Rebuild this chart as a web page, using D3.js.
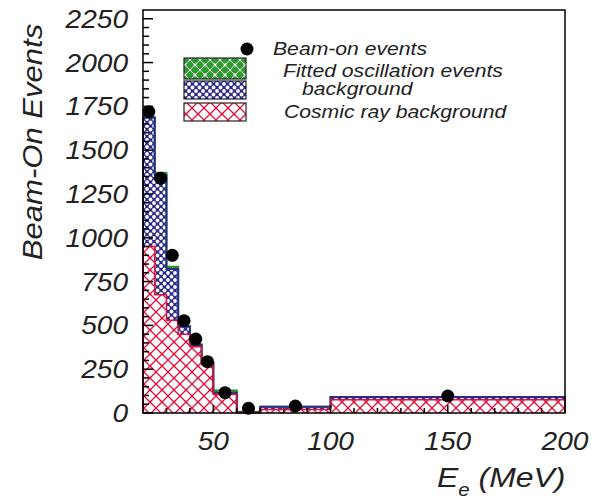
<!DOCTYPE html>
<html>
<head>
<meta charset="utf-8">
<script src="https://cdn.jsdelivr.net/npm/d3@7"></script>
<style>
body{margin:0;background:#fff;}
text{font-family:"Liberation Sans",Arial,sans-serif;font-style:italic;fill:#222;}
</style>
</head>
<body>
<script>
// bin edges in MeV
var binEdges = [20,25,30,35,40,45,50,60,70,100,200];
// stacked contributions per bin
var cosmicBg   = [950,675,530,450,378,275,105,3,20,75];
var beamBg     = [735,683,292,42,10,10,10,0,16,17];
var oscEvents  = [5,13,13,5,5,5,13,4,0,0];
var beamOn     = [1720,1340,900,527,422,293,116,27,40,97];

var yTickLabels = [0,250,500,750,1000,1250,1500,1750,2000,2250];
var xTickLabels = [50,100,150,200];
var legendLabels = ["Beam-on events","Fitted oscillation events","background","Cosmic ray background"];

var svg = d3.select("body").append("svg").attr("width",599).attr("height",501);

var x = d3.scaleLinear().domain([20,200]).range([143,565]);
var y = d3.scaleLinear().domain([0,2300]).range([413,10]);

// patterns
var defs = svg.append("defs");
var pr = defs.append("pattern").attr("id","redHatch").attr("patternUnits","userSpaceOnUse")
    .attr("width",12).attr("height",12);
pr.append("rect").attr("width",12).attr("height",12).attr("fill","#fff");
pr.append("path").attr("d","M0,0L12,12M12,0L0,12").attr("stroke","#e0103c").attr("stroke-width",1.3);
pr.append("circle").attr("cx",6).attr("cy",6).attr("r",1.3).attr("fill","#e0103c");

var pb = defs.append("pattern").attr("id","blueHatch").attr("patternUnits","userSpaceOnUse")
    .attr("width",7).attr("height",7);
pb.append("rect").attr("width",7).attr("height",7).attr("fill","#2c2a8c");
pb.selectAll("circle").data([[3.5,3.5],[0,0],[7,0],[0,7],[7,7]]).enter().append("circle")
    .attr("cx",function(d){return d[0];}).attr("cy",function(d){return d[1];})
    .attr("r",1.9).attr("fill","#fff");

var pg = defs.append("pattern").attr("id","greenHatch").attr("patternUnits","userSpaceOnUse")
    .attr("width",10).attr("height",10);
pg.append("rect").attr("width",10).attr("height",10).attr("fill","#2f9a2f");
pg.append("path").attr("d","M0,0L10,10M10,0L0,10").attr("stroke","#e8f5e8").attr("stroke-width",1);
pg.append("circle").attr("cx",5).attr("cy",5).attr("r",1.4).attr("fill","#fff");

// stacked layers
var stackData = binEdges.map(function(e,i){
    var k = Math.min(i,cosmicBg.length-1);
    var c = cosmicBg[k], b = c+beamBg[k], o = b+oscEvents[k];
    return {x:e, c:c, b:b, o:o};
});

var area = function(lo,hi){
    return d3.area().curve(d3.curveStepAfter)
        .x(function(d){return x(d.x);})
        .y0(function(d){return lo(d);})
        .y1(function(d){return hi(d);});
};
svg.append("path").datum(stackData)
    .attr("d",area(function(d){return y(0);},function(d){return y(d.c);}))
    .attr("fill","url(#redHatch)");
svg.append("path").datum(stackData)
    .attr("d",area(function(d){return y(d.c);},function(d){return y(d.b);}))
    .attr("fill","url(#blueHatch)");
svg.append("path").datum(stackData)
    .attr("d",area(function(d){return y(d.b);},function(d){return y(d.o);}))
    .attr("fill","url(#greenHatch)");

var outline = function(key){
    var line = d3.line().curve(d3.curveStepAfter)
        .x(function(d){return x(d.x);})
        .y(function(d){return y(d[key]);});
    var first = stackData[0], last = stackData[stackData.length-1];
    return "M"+x(first.x)+","+y(0)+"L"+line(stackData).slice(1)+"L"+x(last.x)+","+y(0);
};
svg.append("path").attr("d",outline("o")).attr("fill","none").attr("stroke","#1f9a1f").attr("stroke-width",2);
svg.append("path").attr("d",outline("b")).attr("fill","none").attr("stroke","#2c2a8c").attr("stroke-width",2);
svg.append("path").attr("d",outline("c")).attr("fill","none").attr("stroke","#e0103c").attr("stroke-width",1.5);

// data points
var centers = binEdges.slice(0,-1).map(function(e,i){return (e+binEdges[i+1])/2;});
svg.selectAll("circle.pt")
    .data(beamOn)
    .enter().append("circle")
        .attr("class","pt")
        .attr("cx",function(d,i){return x(centers[i]);})
        .attr("cy",function(d){return y(d);})
        .attr("r",6.5)
        .attr("fill","#000");

// ticks
svg.selectAll("line.yt")
    .data(d3.range(0,2260,50))
    .enter().append("line")
        .attr("class","yt")
        .attr("x1",x(20)).attr("x2",function(d){return x(20)+(d%250==0?10:6);})
        .attr("y1",function(d){return y(d);}).attr("y2",function(d){return y(d);})
        .attr("stroke","#000").attr("stroke-width",1.5);
svg.selectAll("line.xt")
    .data(d3.range(30,200,10))
    .enter().append("line")
        .attr("class","xt")
        .attr("x1",function(d){return x(d);}).attr("x2",function(d){return x(d);})
        .attr("y1",y(0)).attr("y2",function(d){return y(0)-(d%50==0?8:5);})
        .attr("stroke","#000").attr("stroke-width",1.5);

// frame
svg.append("rect").attr("x",x(20)).attr("y",y(2300))
    .attr("width",x(200)-x(20)).attr("height",y(0)-y(2300))
    .attr("fill","none").attr("stroke","#000").attr("stroke-width",1.5);

// tick labels
svg.selectAll("text.yl")
    .data(yTickLabels)
    .enter().append("text")
        .attr("class","yl")
        .attr("transform",function(d){return "translate(128,"+(y(d)+9)+") scale(1.08,1)";})
        .attr("text-anchor","end").attr("font-size",26)
        .text(function(d){return d;});
svg.selectAll("text.xl")
    .data(xTickLabels)
    .enter().append("text")
        .attr("class","xl")
        .attr("transform",function(d){return "translate("+x(d)+",450) scale(1.08,1)";})
        .attr("text-anchor","middle").attr("font-size",26)
        .text(function(d){return d;});

// axis titles
svg.append("text")
    .attr("transform","translate(42,142) rotate(-90) scale(1.15,1)")
    .attr("text-anchor","middle").attr("font-size",27)
    .text("Beam-On Events");
var xt = svg.append("text").attr("transform","translate(437,487) scale(1.14,1)").attr("font-size",28);
xt.append("tspan").text("E");
xt.append("tspan").attr("font-size",18).attr("dy",9).text("e");
xt.append("tspan").attr("dy",-9).text(" (MeV)");

// legend
svg.append("circle").attr("cx",247).attr("cy",49).attr("r",6.5).attr("fill","#000");
var boxes = [["url(#greenHatch)",58,21],["url(#blueHatch)",81,18],["url(#redHatch)",103,18]];
svg.selectAll("rect.lg")
    .data(boxes)
    .enter().append("rect")
        .attr("class","lg")
        .attr("x",184).attr("y",function(d){return d[1];})
        .attr("width",62).attr("height",function(d){return d[2];})
        .attr("fill",function(d){return d[0];})
        .attr("stroke","#222").attr("stroke-width",1.2);
var legendPos = [[273,55],[283,77],[302,95],[284,118]];
svg.selectAll("text.lt")
    .data(legendLabels)
    .enter().append("text")
        .attr("class","lt")
        .attr("transform",function(d,i){return "translate("+legendPos[i][0]+","+legendPos[i][1]+") scale(1.21,1)";})
        .attr("font-size",17.5).attr("fill","#333")
        .text(function(d){return d;});
</script>
</body>
</html>
